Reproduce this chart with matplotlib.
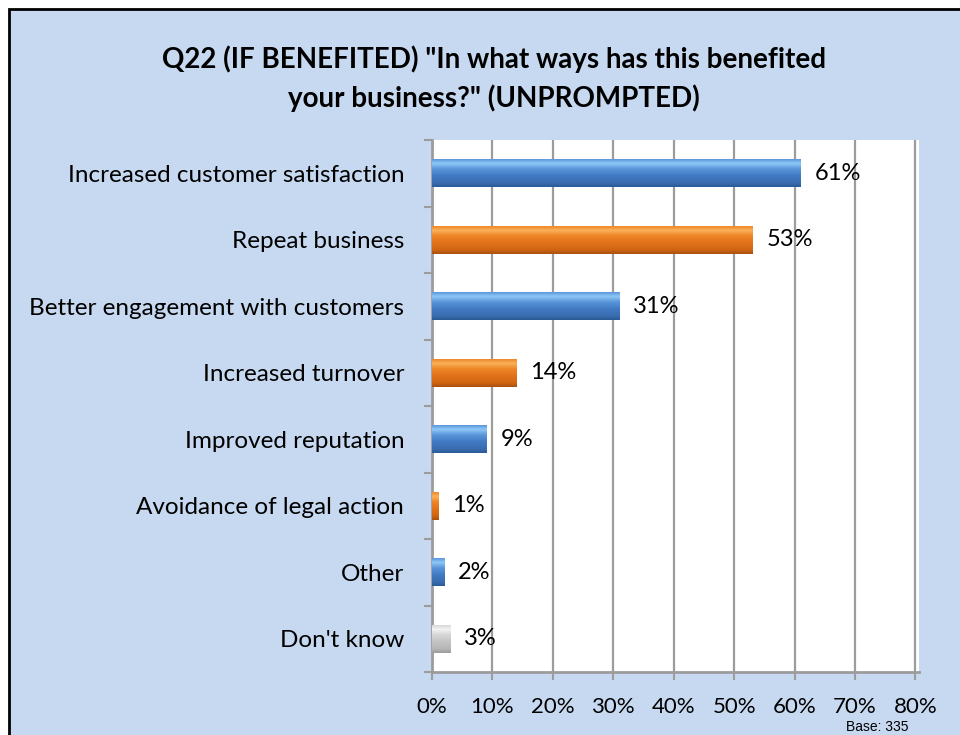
import numpy as np
import matplotlib.pyplot as plt
from matplotlib.patches import Rectangle

categories = [
    "Increased customer satisfaction",
    "Repeat business",
    "Better engagement with customers",
    "Increased turnover",
    "Improved reputation",
    "Avoidance of legal action",
    "Other",
    "Don't know",
]
values = [61, 53, 31, 14, 9, 1, 2, 3]
bar_styles = ["blue", "orange", "blue", "orange", "blue", "orange", "blue", "grey"]
x_ticks = [0, 10, 20, 30, 40, 50, 60, 70, 80]

TITLE = 'Q22 (IF BENEFITED) "In what ways has this benefited\nyour business?" (UNPROMPTED)'
BASE_NOTE = "Base: 335"

BG = "#C6D9F0"
GRID = "#9C9C9C"

# light top -> base -> dark bottom
GRADIENTS = {
    "blue": ["#5D97DB", "#8EC8F7", "#5A95DA", "#4079C2", "#3A6DB0", "#2C5A96"],
    "orange": ["#EE8A2A", "#FAB05A", "#EE8526", "#E2721A", "#D06612", "#A8520F"],
    "grey": ["#D8D8D8", "#F2F2F2", "#D6D6D6", "#C4C4C4", "#B6B6B6", "#9C9C9C"],
}

plt.rcParams["font.family"] = ["Lato", "DejaVu Sans"]


def gradient_image(hex_colors, n=60):
    rgb = np.array([[int(c[i:i + 2], 16) / 255 for i in (1, 3, 5)] for c in hex_colors])
    stops = np.array([0.0, 0.15, 0.35, 0.6, 0.85, 1.0])
    t = np.linspace(0, 1, n)
    img = np.stack([np.interp(t, stops, rgb[:, k]) for k in range(3)], axis=1)
    return img[:, None, :]


fig = plt.figure(figsize=(9.6, 7.35), dpi=100)
fig.patch.set_facecolor("white")

# light-blue chart area with black frame
fig.patches.append(Rectangle((9 / 960, -0.05), 1.1, 1 - 9 / 735 + 0.05,
                             transform=fig.transFigure, facecolor=BG,
                             edgecolor="black", linewidth=2, zorder=-5))

ax = fig.add_axes([432 / 960, 1 - 672 / 735, (919 - 432) / 960, (672 - 140) / 735])
ax.set_facecolor("white")

y = np.arange(len(categories))
bars = ax.barh(y, values, height=0.42, color=[GRADIENTS[s][3] for s in bar_styles],
               zorder=3)

for bar, style in zip(bars, bar_styles):
    x0, y0 = bar.get_x(), bar.get_y()
    w, h = bar.get_width(), bar.get_height()
    im = ax.imshow(gradient_image(GRADIENTS[style]), extent=[x0, x0 + w, y0 + h, y0],
                   origin="upper", aspect="auto", zorder=3.5)
    im.set_clip_path(bar)

for yi, v in zip(y, values):
    ax.text(v + 2.3, yi, f"{v}%", va="center", ha="left", fontsize=17, zorder=5)

ax.set_xlim(0, 80.58)
ax.set_ylim(len(categories) - 0.5, -0.5)

ax.set_xticks(x_ticks)
ax.set_xticklabels([f"{t}%" for t in x_ticks], fontsize=16)
ax.set_yticks(y)
ax.set_yticklabels(categories, fontsize=17.5)
ax.tick_params(axis="y", length=0, pad=20)
ax.tick_params(axis="x", length=6, width=1.5, color=GRID, pad=12)

# category separators on the left axis
ax.set_yticks(np.arange(len(categories) + 1) - 0.5, minor=True)
ax.tick_params(axis="y", which="minor", length=6, width=1.5, color=GRID)

ax.grid(axis="x", color=GRID, linewidth=1.6, zorder=0)
ax.set_axisbelow(True)
for side in ["top", "right"]:
    ax.spines[side].set_visible(False)
for side in ["left", "bottom"]:
    ax.spines[side].set_color(GRID)
    ax.spines[side].set_linewidth(2)

fig.text(494 / 960, 1 - 79 / 735, TITLE, ha="center", va="center",
         fontsize=20, fontweight="bold", linespacing=1.5)
fig.text(908 / 960, 1 - 727 / 735, BASE_NOTE, ha="right", va="center",
         fontsize=10, family=["Liberation Sans", "DejaVu Sans"])

fig.savefig("out.png", dpi=100, facecolor=fig.get_facecolor())
